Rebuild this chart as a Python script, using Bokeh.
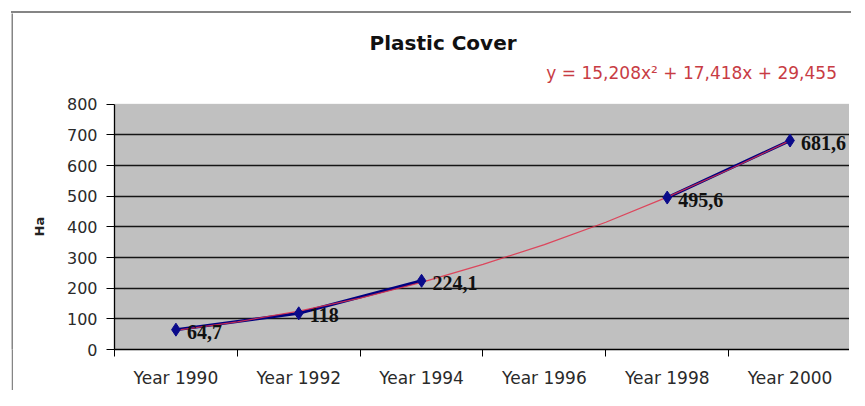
from bokeh.plotting import figure
from bokeh.layouts import row, column
from bokeh.models import (Range1d, FixedTicker, ColumnDataSource, LabelSet, Label,
                          BoxAnnotation, Spacer, Title)
from bokeh.embed import file_html
from bokeh.resources import INLINE

# ---- data ----
years = ["Year 1990", "Year 1992", "Year 1994", "Year 1996", "Year 1998", "Year 2000"]
plastic_ha = [64.7, 118.0, 224.1, float("nan"), 495.6, 681.6]
value_labels = ["64,7", "118", "224,1", "", "495,6", "681,6"]
# polynomial trend line, read at half-category steps (category 1 .. 6)
trend_cat = [1.0, 1.5, 2.0, 2.5, 3.0, 3.5, 4.0, 4.5, 5.0, 5.5, 6.0]
trend_ha = [62.1, 90.3, 125.1, 167.5, 218.6, 277.4, 342.4, 415.0, 496.7, 586.2, 681.5]
y_ticks = [0, 100, 200, 300, 400, 500, 600, 700, 800]
title_text = "Plastic Cover"
equation_text = "y = 15,208x\u00b2 + 17,418x + 29,455"
y_label = "Ha"

x_pos = [i + 0.5 for i in range(len(years))]
trend_x = [c - 0.5 for c in trend_cat]

X_END = 5.984
Y_TOP = 800
Y_END = 1095.9   # head-room above the plot area for the titles

p = figure(width=836, height=377, output_backend="svg", toolbar_location=None,
           x_range=Range1d(0, X_END), y_range=Range1d(0, Y_END),
           min_border_left=101, min_border_right=0, min_border_top=0,
           min_border_bottom=40)
p.background_fill_color = "white"
p.border_fill_color = "white"
p.outline_line_color = None

# grey plot area
p.add_layout(BoxAnnotation(left=0, right=X_END, bottom=0, top=Y_TOP,
                           fill_color="#c0c0c0", fill_alpha=1.0,
                           line_color="#8a8a8a", line_width=1, level="image"))

# grid
p.xgrid.visible = False
p.ygrid.ticker = FixedTicker(ticks=y_ticks[1:-1])
p.ygrid.grid_line_color = "#151515"
p.ygrid.grid_line_width = 1.6

# y axis
ya = p.yaxis[0]
ya.bounds = (0, Y_TOP)
ya.ticker = FixedTicker(ticks=y_ticks)
ya.axis_line_color = "black"
ya.axis_line_width = 1.3
ya.major_tick_out = 8
ya.major_tick_in = 0
ya.major_tick_line_color = "black"
ya.minor_tick_line_color = None
ya.major_label_standoff = 9
ya.major_label_text_font = "DejaVu Sans"
ya.major_label_text_font_size = "16px"
ya.major_label_text_color = "#2a2a2a"

# y axis title, placed beside the 0..800 part of the axis
p.add_layout(Title(text=y_label, align="left", offset=113, vertical_align="middle",
                   standoff=32, text_font="DejaVu Sans", text_font_style="bold",
                   text_font_size="13px", text_color="#222222"), "left")

# x axis: labels centred in categories, tick marks at category boundaries
xa = p.xaxis[0]
xa.ticker = FixedTicker(ticks=x_pos, minor_ticks=list(range(len(years) + 1)))
xa.major_label_overrides = {x: y for x, y in zip(x_pos, years)}
xa.axis_line_color = "black"
xa.axis_line_width = 1.3
xa.major_tick_line_color = None
xa.major_tick_out = 0
xa.major_tick_in = 0
xa.minor_tick_line_color = "black"
xa.minor_tick_out = 7
xa.minor_tick_in = 0
xa.major_label_standoff = 11
xa.major_label_text_font = "DejaVu Sans"
xa.major_label_text_font_size = "17px"
xa.major_label_text_color = "#2a2a2a"

# series
p.line(x_pos, plastic_ha, line_color="#000080", line_width=3)
p.line(trend_x, trend_ha, line_color="#e0304a", line_width=1.3, line_alpha=0.85)
p.scatter(x_pos, plastic_ha, marker="diamond", size=13, color="#0a0a8a")

src = ColumnDataSource(dict(x=x_pos, y=plastic_ha, t=value_labels))
p.add_layout(LabelSet(x="x", y="y", text="t", source=src, x_offset=11, y_offset=-2,
                      text_baseline="middle", text_align="left",
                      text_font="Liberation Serif", text_font_style="bold",
                      text_font_size="20px", text_color="#111111"))

# chart title and trend-line equation
p.add_layout(Label(x=2.675, y=1001, text=title_text, text_align="center",
                   text_baseline="middle", text_font="DejaVu Sans",
                   text_font_style="bold", text_font_size="20px",
                   text_color="#111111"))
p.add_layout(Label(x=4.699, y=901, text=equation_text, text_align="center",
                   text_baseline="middle", text_font="DejaVu Sans",
                   text_font_size="17px", text_color="#c83c44"))

# grey chart-area border (left and top edges)
def bar(w, h):
    b = figure(width=w, height=h, output_backend="svg", toolbar_location=None,
               x_axis_type=None, y_axis_type=None, min_border=0)
    b.background_fill_color = "#858585"
    b.border_fill_color = "#858585"
    b.outline_line_color = None
    return b

top_bar = Spacer(width=840, height=2, styles={"background-color": "#858585"})

layout = column(
    Spacer(width=849, height=11),
    row(Spacer(width=11, height=2), top_bar),
    row(Spacer(width=11, height=377), bar(2, 377), p),
)

open("out.html", "w").write(file_html(layout, INLINE))
